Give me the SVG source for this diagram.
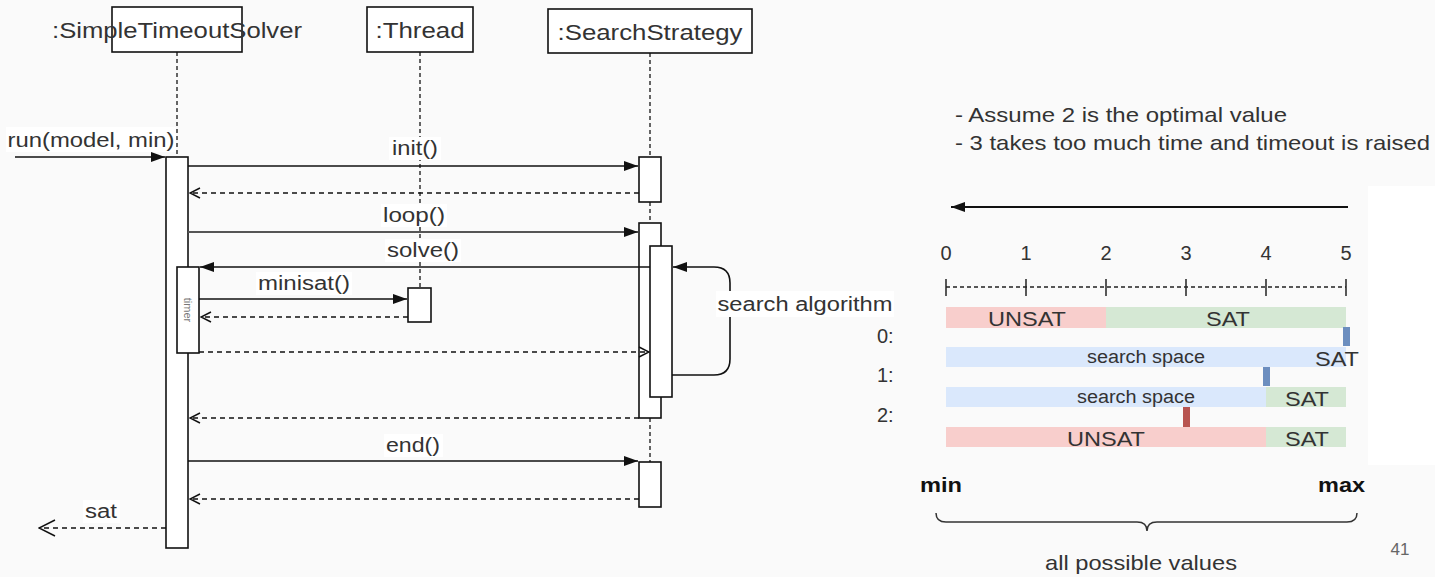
<svg xmlns="http://www.w3.org/2000/svg" width="1435" height="577" viewBox="0 0 1435 577">
<defs>
<style>
text{font-family:"Liberation Sans",Arial,sans-serif;fill:#333}
.hd{font-size:22px;text-anchor:middle}
.lb{font-size:20px;text-anchor:middle}
.box{fill:#fff;stroke:#111;stroke-width:1.6}
.life{stroke:#333;stroke-width:1.5;stroke-dasharray:4 3;fill:none}
.msg{stroke:#111;stroke-width:1.6;fill:none}
.ret{stroke:#111;stroke-width:1.5;stroke-dasharray:5 4;fill:none}
.bg{fill:#fff}
.rt{font-size:21px}
.bar{font-size:21px;text-anchor:middle}
.ss{font-size:18px;text-anchor:middle}
</style>
<marker id="af" viewBox="0 0 14 10" refX="14" refY="5" markerWidth="14" markerHeight="10" markerUnits="userSpaceOnUse" orient="auto">
<path d="M0,0 L14,5 L0,10 z" fill="#111"/>
</marker>
<marker id="ao" viewBox="0 0 12 12" refX="11" refY="6" markerWidth="12" markerHeight="12" markerUnits="userSpaceOnUse" orient="auto">
<path d="M1,1 L11,6 L1,11" fill="none" stroke="#111" stroke-width="1.5"/>
</marker>
<marker id="aob" viewBox="0 0 18 18" refX="17" refY="9" markerWidth="18" markerHeight="18" markerUnits="userSpaceOnUse" orient="auto">
<path d="M1,1 L17,9 L1,17" fill="none" stroke="#111" stroke-width="1.5"/>
</marker>
</defs>
<rect x="0" y="0" width="1435" height="577" fill="#fafafa"/>
<rect x="1368" y="186" width="67" height="279" fill="#fff"/>

<g id="lifelines">
<line class="life" x1="177" y1="52" x2="177" y2="157"/>
<line class="life" x1="420" y1="52" x2="420" y2="288"/>
<line class="life" x1="650" y1="53" x2="650" y2="157"/>
<line class="life" x1="650" y1="202" x2="650" y2="223"/>
<line class="life" x1="650" y1="418" x2="650" y2="462"/>
</g>

<g id="solver">
<rect class="box" x="112" y="7" width="130" height="45"/>
<text class="hd" x="177" y="38" textLength="250" lengthAdjust="spacingAndGlyphs">:SimpleTimeoutSolver</text>
<rect class="box" x="166" y="157" width="22" height="391"/>
</g>
<g id="thread">
<rect class="box" x="367" y="7" width="106" height="45"/>
<text class="hd" x="420" y="38" textLength="89" lengthAdjust="spacingAndGlyphs">:Thread</text>
<rect class="box" x="408" y="288" width="23" height="34"/>
</g>
<g id="strategy">
<rect class="box" x="548" y="9" width="204" height="44"/>
<text class="hd" x="650" y="40" textLength="185" lengthAdjust="spacingAndGlyphs">:SearchStrategy</text>
<rect class="box" x="639" y="157" width="22" height="45"/>
<rect class="box" x="639" y="223" width="22" height="195"/>
<rect class="box" x="650" y="246" width="22" height="151"/>
<rect class="box" x="639" y="462" width="22" height="45"/>
</g>
<g id="timer">
<rect class="box" x="177" y="267" width="22" height="86"/>
<text x="188" y="310" font-size="11" text-anchor="middle" dominant-baseline="central" style="fill:#777" transform="rotate(90 188 310)">timer</text>
</g>

<g id="connectors">
<path class="msg" d="M15,157 H165" marker-end="url(#af)"/>
<path class="msg" d="M188,166 H638" marker-end="url(#af)"/>
<path class="ret" d="M639,193 H190" marker-end="url(#ao)"/>
<path class="msg" d="M188,232 H638" style="stroke:#555;stroke-width:2.2" marker-end="url(#af)"/>
<path class="msg" d="M650,267 H200" marker-end="url(#af)"/>
<path class="msg" d="M199,299 H407" marker-end="url(#af)"/>
<path class="ret" d="M408,317 H201" marker-end="url(#ao)"/>
<path class="ret" d="M199,352 H649" marker-end="url(#ao)"/>
<path class="msg" d="M672,375 H714 Q730,375 730,359 V283 Q730,267 714,267 H673" marker-end="url(#af)"/>
<path class="ret" d="M639,418 H190" marker-end="url(#ao)"/>
<path class="msg" d="M188,461 H638" marker-end="url(#af)"/>
<path class="ret" d="M639,499 H190" marker-end="url(#ao)"/>
<path class="ret" d="M166,528 H39" marker-end="url(#aob)"/>
</g>

<g id="labels">
<rect class="bg" x="6" y="127" width="170" height="25"/>
<text class="lb" x="91" y="147" textLength="167" lengthAdjust="spacingAndGlyphs">run(model, min)</text>
<rect class="bg" x="389" y="137" width="52" height="23"/>
<text class="lb" x="415" y="155" textLength="46" lengthAdjust="spacingAndGlyphs">init()</text>
<rect class="bg" x="381" y="204" width="66" height="23"/>
<text class="lb" x="414" y="222" textLength="62" lengthAdjust="spacingAndGlyphs">loop()</text>
<rect class="bg" x="385" y="239" width="76" height="23"/>
<text class="lb" x="423" y="257" textLength="72" lengthAdjust="spacingAndGlyphs">solve()</text>
<rect class="bg" x="256" y="272" width="96" height="23"/>
<text class="lb" x="304" y="290" textLength="92" lengthAdjust="spacingAndGlyphs">minisat()</text>
<rect class="bg" x="716" y="291" width="178" height="26"/>
<text class="lb" x="805" y="311" textLength="175" lengthAdjust="spacingAndGlyphs">search algorithm</text>
<rect class="bg" x="384" y="434" width="59" height="23"/>
<text class="lb" x="413" y="452" textLength="54" lengthAdjust="spacingAndGlyphs">end()</text>
<rect class="bg" x="83" y="500" width="37" height="23"/>
<text class="lb" x="101" y="518" textLength="32" lengthAdjust="spacingAndGlyphs">sat</text>
</g>

<g id="notes">
<text class="rt" x="955" y="122" textLength="332" lengthAdjust="spacingAndGlyphs">- Assume 2 is the optimal value</text>
<text class="rt" x="955" y="150" textLength="475" lengthAdjust="spacingAndGlyphs">- 3 takes too much time and timeout is raised</text>
</g>

<g id="direction-arrow">
<path d="M1348,207 H951" stroke="#111" stroke-width="2" fill="none" marker-end="url(#af)"/>
</g>

<g id="axis">
<g class="bar" style="font-size:20px">
<text x="946" y="260">0</text>
<text x="1026" y="260">1</text>
<text x="1106" y="260">2</text>
<text x="1186" y="260">3</text>
<text x="1266" y="260">4</text>
<text x="1346" y="260">5</text>
</g>
<line x1="946" y1="287" x2="1346" y2="287" stroke="#222" stroke-width="1.3" stroke-dasharray="4 3"/>
<g stroke="#222" stroke-width="1.5">
<line x1="946" y1="279" x2="946" y2="296"/>
<line x1="1026" y1="279" x2="1026" y2="296"/>
<line x1="1106" y1="279" x2="1106" y2="296"/>
<line x1="1186" y1="279" x2="1186" y2="296"/>
<line x1="1266" y1="279" x2="1266" y2="296"/>
<line x1="1346" y1="279" x2="1346" y2="296"/>
</g>
</g>

<g id="row0">
<rect x="946" y="307" width="160" height="21" fill="#f8cecc"/>
<rect x="1106" y="307" width="240" height="21" fill="#d5e8d4"/>
<text class="bar" x="1027" y="326" textLength="78" lengthAdjust="spacingAndGlyphs">UNSAT</text>
<text class="bar" x="1228" y="326" textLength="44" lengthAdjust="spacingAndGlyphs">SAT</text>
</g>
<g id="row1">
<rect x="946" y="347" width="400" height="20" fill="#dae8fc"/>
<text class="ss" x="1146" y="363" textLength="118" lengthAdjust="spacingAndGlyphs">search space</text>
<text class="bar" x="1337" y="366" textLength="44" lengthAdjust="spacingAndGlyphs">SAT</text>
</g>
<g id="row2">
<rect x="946" y="387" width="320" height="20" fill="#dae8fc"/>
<rect x="1266" y="387" width="80" height="20" fill="#d5e8d4"/>
<text class="ss" x="1136" y="403" textLength="118" lengthAdjust="spacingAndGlyphs">search space</text>
<text class="bar" x="1307" y="406" textLength="44" lengthAdjust="spacingAndGlyphs">SAT</text>
</g>
<g id="row3">
<rect x="946" y="427" width="320" height="20" fill="#f8cecc"/>
<rect x="1266" y="427" width="80" height="20" fill="#d5e8d4"/>
<text class="bar" x="1106" y="446" textLength="78" lengthAdjust="spacingAndGlyphs">UNSAT</text>
<text class="bar" x="1307" y="446" textLength="44" lengthAdjust="spacingAndGlyphs">SAT</text>
</g>
<g id="markers">
<rect x="1343" y="327" width="7" height="19" fill="#6c8ebf"/>
<rect x="1263" y="367" width="7" height="19" fill="#6c8ebf"/>
<rect x="1183" y="407" width="7" height="20" fill="#b85450"/>
</g>
<g id="row-labels">
<text x="877" y="343" font-size="20">0:</text>
<text x="877" y="382" font-size="20">1:</text>
<text x="877" y="422" font-size="20">2:</text>
</g>

<g id="range">
<text x="920" y="492" font-size="21" font-weight="bold" textLength="42" lengthAdjust="spacingAndGlyphs" style="fill:#111">min</text>
<text x="1318" y="492" font-size="21" font-weight="bold" textLength="47" lengthAdjust="spacingAndGlyphs" style="fill:#111">max</text>
<path d="M936,513 Q936,522 946,522 L1137,522 Q1147,522 1147,531 Q1147,522 1157,522 L1347,522 Q1357,522 1357,513" fill="none" stroke="#333" stroke-width="1.5"/>
<text x="1141" y="570" font-size="21" text-anchor="middle" textLength="192" lengthAdjust="spacingAndGlyphs">all possible values</text>
<text x="1400" y="555" font-size="17" text-anchor="middle" style="fill:#666">41</text>
</g>
</svg>
